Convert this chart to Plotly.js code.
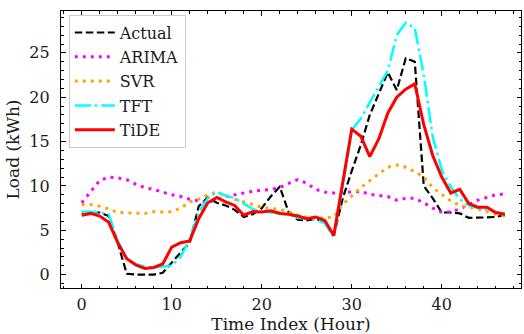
<!DOCTYPE html>
<html>
<head>
<meta charset="utf-8">
<script src="https://cdn.plot.ly/plotly-3.0.1.min.js"></script>
<style>html,body{margin:0;padding:0;background:#fff;}#chart{width:524px;height:334px;}</style>
</head>
<body>
<div id="chart"></div>
<script>
const hours = Array.from({length: 48}, (_, i) => i);

const actual = [7.0, 7.0, 7.0, 6.6, 3.6, 0.1, 0.0, 0.0, 0.0, 0.2, 1.4, 2.5, 3.6, 7.7, 8.7, 8.1, 7.8, 7.3, 6.5, 6.8, 7.5, 8.8, 9.9, 7.0,
  6.2, 6.1, 6.3, 5.9, 4.4, 8.6, 11.7, 14.6, 18.0, 20.5, 22.8, 20.8, 24.4, 24.0, 10.0, 8.6, 7.0, 7.0, 6.9, 6.4, 6.4, 6.45, 6.5, 6.7];
const arima = [8.1, 9.4, 10.6, 11.0, 10.9, 10.7, 10.2, 9.8, 9.6, 9.3, 9.0, 8.8, 8.5, 8.3, 8.1, 8.5, 8.8, 9.0, 9.2, 9.4, 9.5, 9.6, 9.8, 10.3,
  10.7, 10.3, 9.6, 9.3, 9.2, 9.3, 9.3, 9.4, 9.05, 8.9, 8.8, 8.4, 8.6, 8.6, 8.1, 7.5, 7.05, 7.05, 7.4, 7.9, 8.4, 8.7, 9.0, 9.1];
const svr = [7.9, 7.9, 7.7, 7.4, 7.0, 6.95, 6.95, 6.9, 7.1, 7.05, 7.1, 7.5, 8.2, 8.5, 9.0, 9.3, 8.9, 8.5, 8.2, 7.9, 7.6, 7.45, 7.35, 7.1,
  6.7, 6.45, 6.3, 6.4, 6.5, 7.9, 8.9, 9.8, 10.6, 11.4, 12.1, 12.35, 12.1, 11.6, 11.0, 9.8, 9.0, 8.3, 7.8, 7.6, 7.4, 7.1, 6.8, 6.6];
const tft = [7.1, 7.1, 7.0, 6.8, 3.8, 1.8, 1.2, 0.9, 0.8, 0.9, 1.0, 2.0, 4.0, 7.0, 8.6, 9.3, 8.9, 8.6, 8.0, 7.4, 7.1, 7.0, 7.0, 6.8,
  6.4, 6.3, 6.2, 5.8, 4.2, 10.0, 16.3, 17.6, 19.4, 21.2, 23.0, 27.0, 28.4, 27.8, 22.5, 15.5, 11.8, 9.9, 8.5, 7.8, 7.5, 7.3, 7.0, 6.9];
const tide = [6.7, 6.9, 6.6, 5.9, 3.6, 1.8, 1.1, 0.7, 0.8, 1.2, 3.1, 3.6, 3.8, 6.3, 8.1, 8.7, 8.2, 7.8, 6.7, 7.1, 7.05, 7.2, 6.9, 6.8,
  6.6, 6.3, 6.5, 6.1, 4.4, 10.4, 16.4, 15.6, 13.3, 15.3, 18.2, 20.0, 20.9, 21.5, 16.9, 13.4, 11.0, 9.2, 9.6, 8.0, 7.6, 7.6, 7.0, 6.8];

const seriesNames = ['Actual', 'ARIMA', 'SVR', 'TFT', 'TiDE'];

const traces = [
  {y: actual, name: seriesNames[0], line: {color: '#000000', width: 2.2, dash: '7.5px,3.5px'}},
  {y: arima, name: seriesNames[1], line: {color: '#ff00ff', width: 3, dash: '3px,5px'}},
  {y: svr, name: seriesNames[2], line: {color: '#ffa500', width: 3, dash: '3px,5px'}},
  {y: tft, name: seriesNames[3], line: {color: '#00ffff', width: 2.5, dash: '16px,4px,2.5px,4px'}},
  {y: tide, name: seriesNames[4], line: {color: '#ff0000', width: 3}}
].map((t, k) => Object.assign({x: hours, type: 'scatter', mode: 'lines', legendgroup: 'g' + k}, t));

const fontFam = '"DejaVu Serif", serif';
const txtColor = '#1a1a1a';
const axisCommon = {
  showline: true, linecolor: '#000', linewidth: 1.2, mirror: 'allticks',
  ticks: 'inside', ticklen: 4.5, tickwidth: 1, tickcolor: '#000',
  showgrid: false, zeroline: false,
  tickfont: {family: fontFam, size: 16, color: txtColor}
};

const layout = {
  width: 524, height: 334,
  margin: {l: 61, r: 3, t: 11, b: 46},
  paper_bgcolor: '#fff', plot_bgcolor: '#fff',
  font: {family: fontFam, color: txtColor},
  xaxis: Object.assign({}, axisCommon, {
    range: [-2.3, 48.8], tickvals: [0, 10, 20, 30, 40], ticklabelstandoff: 2,
    minor: {dtick: 2, ticks: 'inside', ticklen: 2.5, tickcolor: '#000', tickwidth: 1, showgrid: false},
    title: {text: 'Time Index (Hour)', font: {family: fontFam, size: 17, color: txtColor}, standoff: 0}
  }),
  yaxis: Object.assign({}, axisCommon, {
    range: [-1.51, 29.72], tickvals: [0, 5, 10, 15, 20, 25], ticklabelstandoff: 7,
    minor: {dtick: 1, ticks: 'inside', ticklen: 2.5, tickcolor: '#000', tickwidth: 1, showgrid: false},
    title: {text: 'Load (kWh)', font: {family: fontFam, size: 17, color: txtColor}, standoff: 5}
  }),
  showlegend: true,
  legend: {
    x: 0.017, y: 0.987, xanchor: 'left', yanchor: 'top',
    bgcolor: 'rgba(255,255,255,0.8)', bordercolor: '#cccccc', borderwidth: 1,
    font: {family: fontFam, size: 16, color: txtColor},
    tracegroupgap: 0.5, itemwidth: 40
  }
};

Plotly.newPlot('chart', traces, layout, {staticPlot: true, displayModeBar: false});
</script>
</body>
</html>
